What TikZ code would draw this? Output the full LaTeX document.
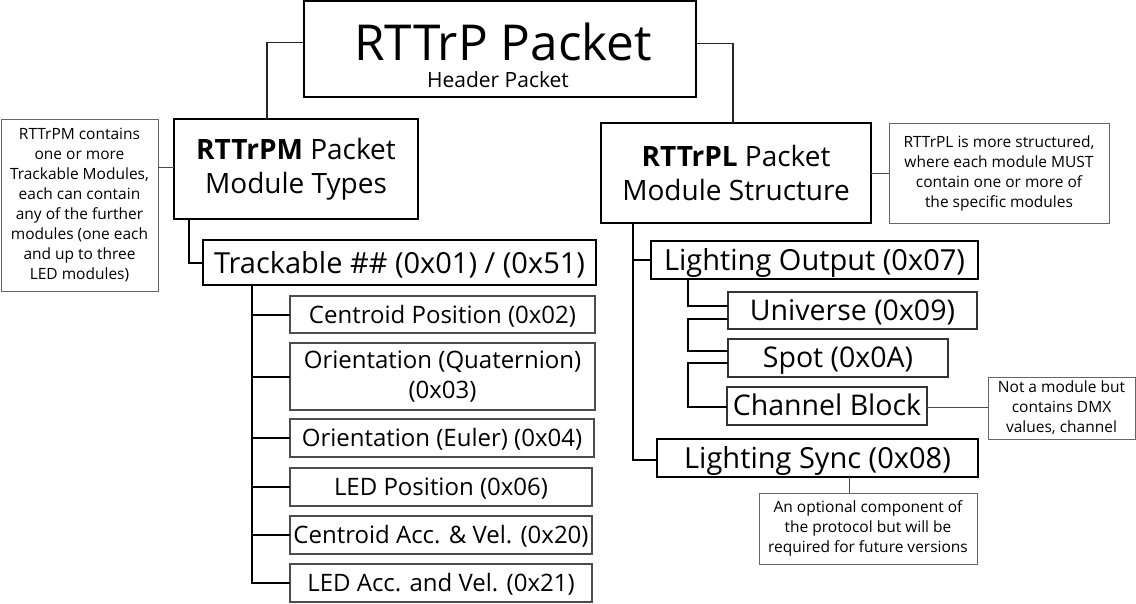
\documentclass[tikz,border=0pt]{standalone}
\usepackage{fontspec}
\setmainfont{Open Sans}
\begin{document}
\begin{tikzpicture}[x=1pt,y=1pt,
  every node/.style={inner sep=0pt, outer sep=0pt},
  mainbox/.style={draw=black, line width=2.5pt, rectangle, align=center},
  oneline/.style={text height=#1, text depth=0pt},
  subbox/.style={draw=black!70, line width=1.5pt, rectangle, align=center, font=\fontsize{24}{30}\selectfont},
  rsubbox/.style={draw=black!80, line width=1.6pt, rectangle, align=center, font=\fontsize{28.5}{34}\selectfont, oneline=19pt},
  notebox/.style={draw=black!60, line width=1pt, rectangle, align=center, font=\fontsize{15.5}{20}\selectfont},
  tree/.style={draw=black, line width=2pt},
  toptree/.style={draw=black!85, line width=1.8pt},
  noteline/.style={draw=black!70, line width=1pt},
]
\useasboundingbox (0,0) rectangle (1136,-603);

% header
\node[mainbox, minimum width=392, minimum height=96] (top) at (500,-49) {};
\node[anchor=base, font=\fontsize{49.5}{50}\selectfont] (toptitle) at (503,-60) {RTTrP Packet};
\node[anchor=base, font=\fontsize{21}{24}\selectfont] (topsub) at (498,-87) {Header Packet};

% RTTrPM side
\node[mainbox, minimum width=244, minimum height=100, font=\fontsize{28}{34}\selectfont] (pm) at (296,-169) {\textbf{RTTrPM} Packet\\Module Types};
\node[notebox, minimum width=157, minimum height=172] (noteM) at (79.5,-205) {RTTrPM contains\\one or more\\Trackable Modules,\\each can contain\\any of the further\\modules (one each\\and up to three\\LED modules)};
\node[mainbox, minimum width=393, minimum height=45, font=\fontsize{29}{34}\selectfont, oneline=21pt] (trk) at (399.5,-262.5) {Trackable \#\# (0x01) / (0x51)};

\node[subbox, minimum width=305, minimum height=37, oneline=17pt] (cp) at (442.5,-314.5) {Centroid Position (0x02)};
\node[subbox, minimum width=305, minimum height=67] (oq) at (442.5,-376.5) {Orientation (Quaternion)\\(0x03)};
\node[subbox, minimum width=304, minimum height=38, oneline=17pt] (oe) at (442,-438) {Orientation (Euler) (0x04)};
\node[subbox, minimum width=302, minimum height=38, oneline=17pt] (lp) at (441,-487) {LED Position (0x06)};
\node[subbox, minimum width=302, minimum height=38, oneline=17pt] (ca) at (441,-535) {Centroid Acc. \& Vel. (0x20)};
\node[subbox, minimum width=302, minimum height=38, oneline=17pt] (la) at (441,-583) {LED Acc. and Vel. (0x21)};

% RTTrPL side
\node[mainbox, minimum width=270, minimum height=100, font=\fontsize{28}{34}\selectfont] (pl) at (736,-173) {\textbf{RTTrPL} Packet\\Module Structure};
\node[notebox, minimum width=220, minimum height=100] (noteL) at (999,-173) {RTTrPL is more structured,\\where each module MUST\\contain one or more of\\the specific modules};
\node[mainbox, minimum width=327, minimum height=38, font=\fontsize{29}{34}\selectfont, oneline=20pt] (lo) at (814.5,-260) {Lighting Output (0x07)};
\node[rsubbox, minimum width=249, minimum height=37] (uni) at (852.5,-310.5) {Universe (0x09)};
\node[rsubbox, minimum width=220, minimum height=38] (spot) at (838,-358) {Spot (0x0A)};
\node[rsubbox, minimum width=200, minimum height=38] (ch) at (827,-406) {Channel Block};
\node[mainbox, minimum width=321, minimum height=38, font=\fontsize{29}{34}\selectfont, oneline=20pt] (ls) at (817.5,-458) {Lighting Sync (0x08)};
\node[notebox, minimum width=147, minimum height=62] (noteCh) at (1061.5,-408) {Not a module but\\contains DMX\\values, channel};
\node[notebox, minimum width=218, minimum height=71] (noteS) at (868,-528.5) {An optional component of\\the protocol but will be\\required for future versions};

% connectors
\draw[toptree] ([yshift=6.5]top.west) -| ([xshift=-29]pm.north);
\draw[toptree] ([yshift=5.5]top.east) -| ([xshift=-3]pl.north);
\draw[noteline] ([yshift=2]pm.west) -- ([yshift=2]pm.west -| noteM.east);
\draw[tree] ([xshift=-107]pm.south) |- (trk.west);
\foreach \c in {cp,oq,oe,lp,ca,la}
  \draw[tree] ([xshift=-147.5]trk.south) |- (\c.west);
\draw[noteline] (pl.east) -- (noteL.west);
\draw[tree] ([xshift=-103]pl.south) |- (lo.west);
\draw[tree] ([xshift=-103]pl.south) |- ([yshift=-2]ls.west);
\coordinate (bx) at ([xshift=-126.5]lo.south);
\draw[tree] (bx) |- ([yshift=4.5]uni.west);
\draw[tree] ([yshift=-8.5]uni.west) coordinate (u1) -- (u1 -| bx) |- ([yshift=7]spot.west);
\draw[tree] ([yshift=-5]spot.west) coordinate (s1) -- (s1 -| bx) |- ([yshift=-1]ch.west);
\draw[noteline] ([yshift=-1]ch.east) -- ([yshift=-1]ch.east -| noteCh.west);
\draw[noteline] ([xshift=31.5]ls.south) -- ([xshift=31.5]ls.south |- noteS.north);
\end{tikzpicture}
\end{document}
